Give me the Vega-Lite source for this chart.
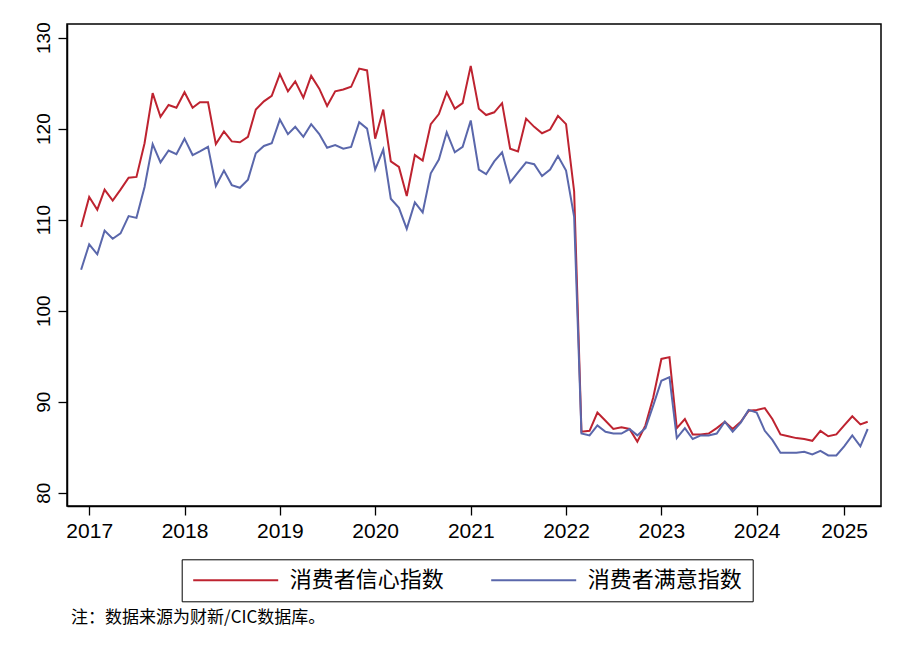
{
  "$schema": "https://vega.github.io/schema/vega-lite/v6.json",
  "width": 814,
  "height": 482,
  "autosize": {"type": "none"},
  "padding": {"left": 67, "top": 24, "right": 25, "bottom": 153},
  "background": "white",
  "config": {
    "view": {"stroke": "#000", "strokeWidth": 1.5},
    "axis": {
      "grid": false,
      "domainColor": "#000",
      "domainWidth": 1.5,
      "tickColor": "#000",
      "tickWidth": 1.3,
      "tickSize": 9,
      "labelFont": "Liberation Sans",
      "labelColor": "#000",
      "title": null
    }
  },
  "title": {
    "text": "注：数据来源为财新/CIC数据库。",
    "orient": "bottom",
    "anchor": "start",
    "frame": "group",
    "offset": 8,
    "dx": 4,
    "font": "Noto Sans CJK SC",
    "fontSize": 17,
    "fontWeight": "normal",
    "color": "#000"
  },
  "data": {
    "values": [
      {"date": "2016-12", "消费者信心指数": 109.2, "消费者满意指数": 104.5},
      {"date": "2017-01", "消费者信心指数": 112.5, "消费者满意指数": 107.3},
      {"date": "2017-02", "消费者信心指数": 111.1, "消费者满意指数": 106.2},
      {"date": "2017-03", "消费者信心指数": 113.3, "消费者满意指数": 108.8},
      {"date": "2017-04", "消费者信心指数": 112.1, "消费者满意指数": 107.9},
      {"date": "2017-05", "消费者信心指数": 113.3, "消费者满意指数": 108.5},
      {"date": "2017-06", "消费者信心指数": 114.6, "消费者满意指数": 110.4},
      {"date": "2017-07", "消费者信心指数": 114.7, "消费者满意指数": 110.2},
      {"date": "2017-08", "消费者信心指数": 118.4, "消费者满意指数": 113.6},
      {"date": "2017-09", "消费者信心指数": 123.9, "消费者满意指数": 118.3},
      {"date": "2017-10", "消费者信心指数": 121.3, "消费者满意指数": 116.3},
      {"date": "2017-11", "消费者信心指数": 122.6, "消费者满意指数": 117.6},
      {"date": "2017-12", "消费者信心指数": 122.3, "消费者满意指数": 117.2},
      {"date": "2018-01", "消费者信心指数": 124.0, "消费者满意指数": 118.9},
      {"date": "2018-02", "消费者信心指数": 122.3, "消费者满意指数": 117.1},
      {"date": "2018-03", "消费者信心指数": 122.9, "消费者满意指数": 117.5},
      {"date": "2018-04", "消费者信心指数": 122.9, "消费者满意指数": 118.0},
      {"date": "2018-05", "消费者信心指数": 118.3, "消费者满意指数": 113.7},
      {"date": "2018-06", "消费者信心指数": 119.7, "消费者满意指数": 115.4},
      {"date": "2018-07", "消费者信心指数": 118.6, "消费者满意指数": 113.8},
      {"date": "2018-08", "消费者信心指数": 118.5, "消费者满意指数": 113.5},
      {"date": "2018-09", "消费者信心指数": 119.1, "消费者满意指数": 114.4},
      {"date": "2018-10", "消费者信心指数": 122.1, "消费者满意指数": 117.3},
      {"date": "2018-11", "消费者信心指数": 123.0, "消费者满意指数": 118.1},
      {"date": "2018-12", "消费者信心指数": 123.6, "消费者满意指数": 118.4},
      {"date": "2019-01", "消费者信心指数": 126.0, "消费者满意指数": 121.0},
      {"date": "2019-02", "消费者信心指数": 124.1, "消费者满意指数": 119.4},
      {"date": "2019-03", "消费者信心指数": 125.2, "消费者满意指数": 120.2},
      {"date": "2019-04", "消费者信心指数": 123.4, "消费者满意指数": 119.1},
      {"date": "2019-05", "消费者信心指数": 125.8, "消费者满意指数": 120.5},
      {"date": "2019-06", "消费者信心指数": 124.4, "消费者满意指数": 119.4},
      {"date": "2019-07", "消费者信心指数": 122.5, "消费者满意指数": 117.9},
      {"date": "2019-08", "消费者信心指数": 124.1, "消费者满意指数": 118.2},
      {"date": "2019-09", "消费者信心指数": 124.3, "消费者满意指数": 117.8},
      {"date": "2019-10", "消费者信心指数": 124.6, "消费者满意指数": 118.0},
      {"date": "2019-11", "消费者信心指数": 126.6, "消费者满意指数": 120.7},
      {"date": "2019-12", "消费者信心指数": 126.4, "消费者满意指数": 120.0},
      {"date": "2020-01", "消费者信心指数": 118.9, "消费者满意指数": 115.5},
      {"date": "2020-02", "消费者信心指数": 122.1, "消费者满意指数": 117.7},
      {"date": "2020-03", "消费者信心指数": 116.4, "消费者满意指数": 112.3},
      {"date": "2020-04", "消费者信心指数": 115.8, "消费者满意指数": 111.3},
      {"date": "2020-05", "消费者信心指数": 112.6, "消费者满意指数": 109.0},
      {"date": "2020-06", "消费者信心指数": 117.1, "消费者满意指数": 111.9},
      {"date": "2020-07", "消费者信心指数": 116.5, "消费者满意指数": 110.8},
      {"date": "2020-08", "消费者信心指数": 120.5, "消费者满意指数": 115.1},
      {"date": "2020-09", "消费者信心指数": 121.6, "消费者满意指数": 116.6},
      {"date": "2020-10", "消费者信心指数": 124.0, "消费者满意指数": 119.6},
      {"date": "2020-11", "消费者信心指数": 122.2, "消费者满意指数": 117.4},
      {"date": "2020-12", "消费者信心指数": 122.8, "消费者满意指数": 118.0},
      {"date": "2021-01", "消费者信心指数": 126.9, "消费者满意指数": 120.9},
      {"date": "2021-02", "消费者信心指数": 122.2, "消费者满意指数": 115.5},
      {"date": "2021-03", "消费者信心指数": 121.5, "消费者满意指数": 115.0},
      {"date": "2021-04", "消费者信心指数": 121.8, "消费者满意指数": 116.4},
      {"date": "2021-05", "消费者信心指数": 122.8, "消费者满意指数": 117.4},
      {"date": "2021-06", "消费者信心指数": 117.8, "消费者满意指数": 114.1},
      {"date": "2021-07", "消费者信心指数": 117.5, "消费者满意指数": 115.2},
      {"date": "2021-08", "消费者信心指数": 121.1, "消费者满意指数": 116.3},
      {"date": "2021-09", "消费者信心指数": 120.2, "消费者满意指数": 116.1},
      {"date": "2021-10", "消费者信心指数": 119.5, "消费者满意指数": 114.8},
      {"date": "2021-11", "消费者信心指数": 119.9, "消费者满意指数": 115.5},
      {"date": "2021-12", "消费者信心指数": 121.4, "消费者满意指数": 117.0},
      {"date": "2022-01", "消费者信心指数": 120.5, "消费者满意指数": 115.4},
      {"date": "2022-02", "消费者信心指数": 113.1, "消费者满意指数": 110.3},
      {"date": "2022-03", "消费者信心指数": 86.7, "消费者满意指数": 86.5},
      {"date": "2022-04", "消费者信心指数": 86.8, "消费者满意指数": 86.3},
      {"date": "2022-05", "消费者信心指数": 88.8, "消费者满意指数": 87.4},
      {"date": "2022-06", "消费者信心指数": 87.9, "消费者满意指数": 86.7},
      {"date": "2022-07", "消费者信心指数": 87.0, "消费者满意指数": 86.5},
      {"date": "2022-08", "消费者信心指数": 87.2, "消费者满意指数": 86.5},
      {"date": "2022-09", "消费者信心指数": 87.0, "消费者满意指数": 87.0},
      {"date": "2022-10", "消费者信心指数": 85.6, "消费者满意指数": 86.3},
      {"date": "2022-11", "消费者信心指数": 87.4, "消费者满意指数": 87.1},
      {"date": "2022-12", "消费者信心指数": 90.5, "消费者满意指数": 89.6},
      {"date": "2023-01", "消费者信心指数": 94.7, "消费者满意指数": 92.3},
      {"date": "2023-02", "消费者信心指数": 94.9, "消费者满意指数": 92.7},
      {"date": "2023-03", "消费者信心指数": 87.1, "消费者满意指数": 86.0},
      {"date": "2023-04", "消费者信心指数": 88.1, "消费者满意指数": 87.1},
      {"date": "2023-05", "消费者信心指数": 86.4, "消费者满意指数": 85.9},
      {"date": "2023-06", "消费者信心指数": 86.4, "消费者满意指数": 86.3},
      {"date": "2023-07", "消费者信心指数": 86.5, "消费者满意指数": 86.3},
      {"date": "2023-08", "消费者信心指数": 87.1, "消费者满意指数": 86.5},
      {"date": "2023-09", "消费者信心指数": 87.8, "消费者满意指数": 87.8},
      {"date": "2023-10", "消费者信心指数": 87.0, "消费者满意指数": 86.7},
      {"date": "2023-11", "消费者信心指数": 87.8, "消费者满意指数": 87.7},
      {"date": "2023-12", "消费者信心指数": 89.0, "消费者满意指数": 89.1},
      {"date": "2024-01", "消费者信心指数": 89.1, "消费者满意指数": 88.8},
      {"date": "2024-02", "消费者信心指数": 89.3, "消费者满意指数": 86.8},
      {"date": "2024-03", "消费者信心指数": 88.1, "消费者满意指数": 85.8},
      {"date": "2024-04", "消费者信心指数": 86.4, "消费者满意指数": 84.4},
      {"date": "2024-05", "消费者信心指数": 86.2, "消费者满意指数": 84.4},
      {"date": "2024-06", "消费者信心指数": 86.0, "消费者满意指数": 84.4},
      {"date": "2024-07", "消费者信心指数": 85.9, "消费者满意指数": 84.5},
      {"date": "2024-08", "消费者信心指数": 85.7, "消费者满意指数": 84.2},
      {"date": "2024-09", "消费者信心指数": 86.8, "消费者满意指数": 84.6},
      {"date": "2024-10", "消费者信心指数": 86.2, "消费者满意指数": 84.1},
      {"date": "2024-11", "消费者信心指数": 86.4, "消费者满意指数": 84.1},
      {"date": "2024-12", "消费者信心指数": 87.4, "消费者满意指数": 85.1},
      {"date": "2025-01", "消费者信心指数": 88.4, "消费者满意指数": 86.3},
      {"date": "2025-02", "消费者信心指数": 87.5, "消费者满意指数": 85.1},
      {"date": "2025-03", "消费者信心指数": 87.8, "消费者满意指数": 87.0}
    ]
  },
  "transform": [
    {"fold": ["消费者信心指数", "消费者满意指数"], "as": ["series", "value"]}
  ],
  "mark": {"type": "line", "strokeWidth": 2},
  "encoding": {
    "x": {
      "field": "date",
      "type": "temporal",
      "scale": {
        "type": "utc",
        "domain": [
          {"year": 2016, "month": 10, "date": 8, "utc": true},
          {"year": 2025, "month": 4, "date": 21, "utc": true}
        ]
      },
      "axis": {
        "values": [
          {"year": 2017, "month": 1, "date": 1, "utc": true},
          {"year": 2018, "month": 1, "date": 1, "utc": true},
          {"year": 2019, "month": 1, "date": 1, "utc": true},
          {"year": 2020, "month": 1, "date": 1, "utc": true},
          {"year": 2021, "month": 1, "date": 1, "utc": true},
          {"year": 2022, "month": 1, "date": 1, "utc": true},
          {"year": 2023, "month": 1, "date": 1, "utc": true},
          {"year": 2024, "month": 1, "date": 1, "utc": true},
          {"year": 2024, "month": 12, "date": 1, "utc": true}
        ],
        "labelExpr": "utcFormat(datum.value + 2678400000, '%Y')",
        "labelFontSize": 21,
        "labelPadding": 5,
        "labelFlush": false,
        "labelOverlap": false
      }
    },
    "y": {
      "field": "value",
      "type": "quantitative",
      "scale": {"domain": [78.54, 131.5], "nice": false, "zero": false},
      "axis": {
        "values": [80, 90, 100, 110, 120, 130],
        "labelAngle": -90,
        "labelAlign": "center",
        "labelBaseline": "alphabetic",
        "labelFontSize": 19,
        "labelPadding": 9
      }
    },
    "color": {
      "field": "series",
      "type": "nominal",
      "sort": ["消费者信心指数", "消费者满意指数"],
      "scale": {
        "domain": ["消费者信心指数", "消费者满意指数"],
        "range": ["#BE2330", "#5A67AB"]
      },
      "legend": {
        "orient": "none",
        "legendX": 114.7,
        "legendY": 535.3,
        "direction": "horizontal",
        "title": null,
        "symbolType": "M-5,0H5",
        "symbolSize": 289,
        "symbolStrokeWidth": 2,
        "symbolOffset": 33,
        "labelFont": "Noto Sans CJK SC",
        "labelFontSize": 22,
        "labelColor": "#000",
        "labelOffset": 43,
        "labelLimit": 400,
        "labelExpr": "datum.value == '消费者满意指数' ? datum.label + '\u2002 ' : datum.label",
        "columnPadding": 42,
        "padding": 10,
        "strokeColor": "#000",
        "fillColor": "#fff"
      }
    }
  }
}
